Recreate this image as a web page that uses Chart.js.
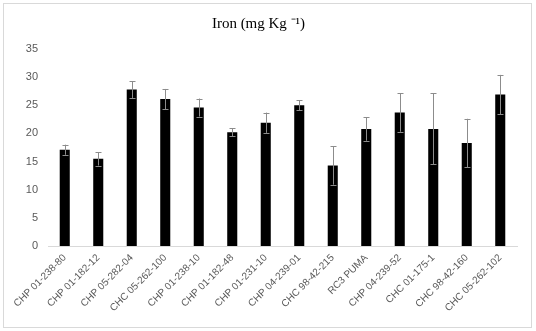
<!DOCTYPE html>
<html>
<head>
<meta charset="utf-8">
<script src="https://cdn.jsdelivr.net/npm/chart.js@4"></script>
<style>
  html, body { margin: 0; padding: 0; background: #fff; }
  #wrap { width: 536px; height: 331px; position: relative; }
</style>
</head>
<body>
<div id="wrap"><canvas id="ironChart" width="536" height="331"></canvas></div>
<script>
const genotypes = [
    "CHP 01-238-80", "CHP 01-182-12", "CHP 05-282-04", "CHC 05-262-100",
    "CHP 01-238-10", "CHP 01-182-48", "CHP 01-231-10", "CHP 04-239-01",
    "CHC 98-42-215", "RC3 PUMA", "CHP 04-239-52", "CHC 01-175-1",
    "CHC 98-42-160", "CHC 05-262-102"
];
const ironValues = [17.1, 15.5, 27.8, 26.1, 24.6, 20.2, 21.9, 25.0, 14.3, 20.8, 23.7, 20.8, 18.3, 26.9];
const ironErrors = [0.9, 1.2, 1.5, 1.8, 1.6, 0.7, 1.8, 0.9, 3.4, 2.1, 3.4, 6.3, 4.3, 3.5];
const yTicks = [0, 5, 10, 15, 20, 25, 30, 35];

// white background + light frame around the chart
const frame = {
    id: 'frame',
    beforeDraw(chart) {
        const ctx = chart.ctx;
        ctx.save();
        ctx.fillStyle = '#fff';
        ctx.fillRect(0, 0, chart.width, chart.height);
        ctx.strokeStyle = '#d9d9d9';
        ctx.lineWidth = 1;
        ctx.strokeRect(3.5, 3.5, chart.width - 8, chart.height - 7);
        ctx.restore();
    }
};

// error bars drawn from the data through the scales
const errorBars = {
    id: 'errorBars',
    afterDatasetsDraw(chart) {
        const ctx = chart.ctx;
        const y = chart.scales.y;
        const meta = chart.getDatasetMeta(0);
        ctx.save();
        ctx.strokeStyle = '#8c8c8c';
        ctx.lineWidth = 1;
        meta.data.forEach((bar, i) => {
            const x = Math.round(bar.x) + 0.5;
            const top = y.getPixelForValue(ironValues[i] + ironErrors[i]);
            const bot = y.getPixelForValue(ironValues[i] - ironErrors[i]);
            ctx.beginPath();
            ctx.moveTo(x, top);
            ctx.lineTo(x, bot);
            ctx.moveTo(x - 3, Math.round(top) + 0.5);
            ctx.lineTo(x + 3, Math.round(top) + 0.5);
            ctx.moveTo(x - 3, Math.round(bot) + 0.5);
            ctx.lineTo(x + 3, Math.round(bot) + 0.5);
            ctx.stroke();
        });
        ctx.restore();
    }
};

const config = {
    type: 'bar',
    data: {
        labels: genotypes,
        datasets: [{
            label: 'Iron',
            data: ironValues,
            backgroundColor: '#000',
            borderWidth: 0,
            categoryPercentage: 1,
            barPercentage: 0.3
        }]
    },
    options: {
        responsive: false,
        animation: false,
        layout: { padding: { left: 0, right: 19, top: 0, bottom: 6 } },
        scales: {
            y: {
                min: 0,
                max: 35,
                afterBuildTicks: function(scale) {
                    scale.ticks = yTicks.map(v => ({ value: v }));
                },
                afterFit: function(scale) { scale.width = 48; },
                grid: { display: false, drawTicks: false },
                border: { display: false },
                ticks: {
                    color: '#595959',
                    padding: 10,
                    font: { family: 'Liberation Sans', size: 11 }
                }
            },
            x: {
                afterFit: function(scale) { scale.height = 79; },
                grid: { display: false, drawTicks: false },
                border: { display: true, color: '#d9d9d9' },
                ticks: {
                    autoSkip: false,
                    minRotation: 45,
                    maxRotation: 45,
                    padding: 6,
                    color: '#595959',
                    font: { family: 'Liberation Sans', size: 10 }
                }
            }
        },
        plugins: {
            legend: { display: false },
            tooltip: { enabled: false },
            title: {
                display: true,
                text: 'Iron (mg Kg \u207B\u00B9)',
                color: '#000',
                font: { family: 'Liberation Serif', size: 15, weight: 'normal' },
                padding: { top: 15, bottom: 16 }
            }
        }
    },
    plugins: [frame, errorBars]
};

const myChart = new Chart(document.getElementById('ironChart'), config);
</script>
</body>
</html>
